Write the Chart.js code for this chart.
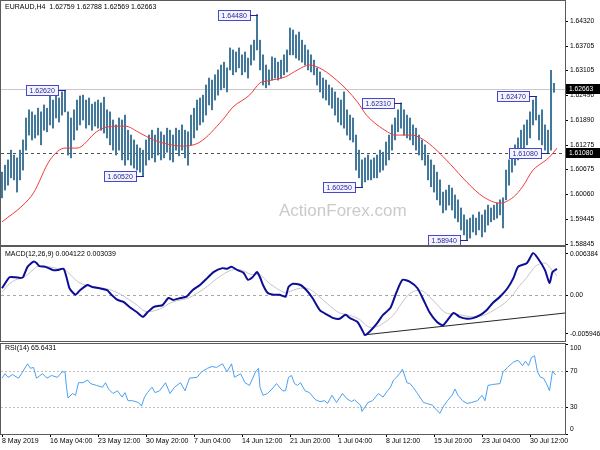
<!DOCTYPE html>
<html>
<head>
<meta charset="utf-8">
<script src="https://cdn.jsdelivr.net/npm/chart.js@4"></script>
<style>
    html, body { margin: 0; padding: 0; background: #fff; }
    #wrap { position: relative; width: 600px; height: 450px; overflow: hidden; background: #fff; }
    #wrap canvas { position: absolute; left: 0; top: 0; }
</style>
</head>
<body>
<div id="wrap">
    <canvas id="priceChart" width="600" height="450"></canvas>
    <canvas id="macdChart" width="600" height="450"></canvas>
    <canvas id="rsiChart" width="600" height="450"></canvas>
</div>
<script>
// ===== DATA =====
const dateLabels = ['8 May 2019', '16 May 04:00', '23 May 12:00', '30 May 20:00', '7 Jun 04:00', '14 Jun 12:00',
    '21 Jun 20:00', '1 Jul 04:00', '8 Jul 12:00', '15 Jul 20:00', '23 Jul 04:00', '30 Jul 12:00'];
const dateTicks = [0, 32, 64, 96, 128, 160, 192, 224, 256, 288, 320, 352]; // H4 bar number of each label

const priceTicks = [1.64320, 1.63705, 1.63105, 1.62490, 1.61890, 1.61275, 1.60675, 1.60060, 1.59445, 1.58845];
const macdTicks = [0.006384, 0, -0.005946];
const rsiTicks = [100, 70, 30, 0];

const ohlcLast = [1.62759, 1.62788, 1.62569, 1.62663];
const supportLevel = 1.61080;

// one sampled bar per two H4 bars
const barStep = 2;
const barHigh = [
    1.6061, 1.6078, 1.6091, 1.6115, 1.6103, 1.6096, 1.6115, 1.6140, 1.6194, 1.6214,
    1.6209, 1.6201, 1.6218, 1.6209, 1.6226, 1.6218, 1.6255, 1.6238, 1.6248, 1.6243,
    1.6258, 1.6262, 1.6209, 1.6194, 1.6214, 1.6238, 1.6248, 1.6250, 1.6238, 1.6243,
    1.6228, 1.6233, 1.6238, 1.6231, 1.6245, 1.6214, 1.6209, 1.6189, 1.6177, 1.6194,
    1.6189, 1.6201, 1.6164, 1.6152, 1.6140, 1.6128, 1.6120, 1.6115, 1.6140, 1.6152,
    1.6164, 1.6152, 1.6169, 1.6160, 1.6152, 1.6169, 1.6164, 1.6152, 1.6169, 1.6164,
    1.6177, 1.6164, 1.6160, 1.6201, 1.6218, 1.6238, 1.6243, 1.6250, 1.6275, 1.6292,
    1.6287, 1.6300, 1.6312, 1.6324, 1.6331, 1.6317, 1.6366, 1.6361, 1.6356, 1.6366,
    1.6349, 1.6356, 1.6341, 1.6373, 1.6385, 1.6448, 1.6385, 1.6349, 1.6324, 1.6312,
    1.6344, 1.6341, 1.6331, 1.6336, 1.6349, 1.6361, 1.6415, 1.6410, 1.6398, 1.6405,
    1.6385, 1.6373, 1.6361, 1.6349, 1.6336, 1.6317, 1.6307, 1.6292, 1.6287, 1.6275,
    1.6268, 1.6258, 1.6243, 1.6238, 1.6258, 1.6214, 1.6201, 1.6194, 1.6152, 1.6115,
    1.6091, 1.6096, 1.6103, 1.6091, 1.6096, 1.6103, 1.6115, 1.6110, 1.6135, 1.6152,
    1.6177, 1.6194, 1.6214, 1.6231, 1.6214, 1.6201, 1.6194, 1.6177, 1.6169, 1.6152,
    1.6140, 1.6128, 1.6103, 1.6091, 1.6078, 1.6061, 1.6042, 1.6012, 1.6017, 1.6029,
    1.6022, 1.6005, 1.5993, 1.5973, 1.5956, 1.5944, 1.5948, 1.5956, 1.5948, 1.5963,
    1.5956, 1.5968, 1.5980, 1.5973, 1.5980, 1.5985, 1.5993, 1.5998, 1.6066, 1.6091,
    1.6115, 1.6128, 1.6145, 1.6164, 1.6177, 1.6189, 1.6209, 1.6238, 1.6247, 1.6201,
    1.6214, 1.6177, 1.6164, 1.6311, 1.6279
];
const barLow = [
    1.5998, 1.6017, 1.6029, 1.6047, 1.6042, 1.6012, 1.6042, 1.6066, 1.6115, 1.6152,
    1.6140, 1.6145, 1.6152, 1.6128, 1.6164, 1.6160, 1.6177, 1.6169, 1.6194, 1.6184,
    1.6201, 1.6209, 1.6103, 1.6096, 1.6140, 1.6164, 1.6177, 1.6189, 1.6169, 1.6177,
    1.6164, 1.6174, 1.6169, 1.6164, 1.6157, 1.6145, 1.6128, 1.6115, 1.6103, 1.6115,
    1.6091, 1.6078, 1.6091, 1.6078, 1.6071, 1.6066, 1.6061, 1.6052, 1.6078, 1.6091,
    1.6096, 1.6086, 1.6103, 1.6091, 1.6096, 1.6110, 1.6091, 1.6086, 1.6115, 1.6101,
    1.6115, 1.6096, 1.6078, 1.6128, 1.6145, 1.6164, 1.6177, 1.6184, 1.6201, 1.6226,
    1.6214, 1.6238, 1.6250, 1.6263, 1.6268, 1.6258, 1.6312, 1.6300, 1.6307, 1.6317,
    1.6300, 1.6307, 1.6292, 1.6324, 1.6336, 1.6361, 1.6312, 1.6275, 1.6268, 1.6275,
    1.6287, 1.6292, 1.6287, 1.6292, 1.6300, 1.6307, 1.6349, 1.6349, 1.6341, 1.6336,
    1.6331, 1.6324, 1.6312, 1.6307, 1.6300, 1.6275, 1.6258, 1.6243, 1.6238, 1.6226,
    1.6218, 1.6201, 1.6184, 1.6177, 1.6169, 1.6152, 1.6140, 1.6135, 1.6066, 1.6047,
    1.6025, 1.6037, 1.6042, 1.6042, 1.6047, 1.6047, 1.6061, 1.6066, 1.6078, 1.6091,
    1.6115, 1.6140, 1.6160, 1.6169, 1.6152, 1.6145, 1.6140, 1.6128, 1.6115, 1.6103,
    1.6091, 1.6078, 1.6042, 1.6025, 1.6012, 1.5993, 1.5980, 1.5961, 1.5968, 1.5980,
    1.5968, 1.5948, 1.5939, 1.5919, 1.5907, 1.5894, 1.5899, 1.5914, 1.5907, 1.5919,
    1.5902, 1.5914, 1.5931, 1.5939, 1.5944, 1.5948, 1.5956, 1.5924, 1.5993, 1.6029,
    1.6061, 1.6078, 1.6091, 1.6110, 1.6120, 1.6128, 1.6145, 1.6177, 1.6189, 1.6140,
    1.6128, 1.6115, 1.6108, 1.6115, 1.6257
];

// swing high / low markers (H4 bar number, price)
const markIdx = [42, 94, 170, 240, 266, 310, 356, 364];
const markPrice = [1.62620, 1.60520, 1.64480, 1.60250, 1.62310, 1.58940, 1.62470, 1.61080];

// moving average
const maIdx = [0, 14, 21, 32, 42, 50, 63, 70, 82, 92, 101, 110, 121, 132, 147, 154, 165, 172, 177, 189,
    197, 205, 214, 223, 230, 237, 243, 257, 262, 265, 273, 279, 287, 299, 310, 321, 332, 341, 347, 354,
    361, 365, 370];
const maVal = [1.5939, 1.5980, 1.6010, 1.6091, 1.6120, 1.6120, 1.6160, 1.6172, 1.6174, 1.6157,
    1.6140, 1.6130, 1.6125, 1.6135, 1.6189, 1.6221, 1.6250, 1.6280, 1.6285, 1.6295,
    1.6312, 1.6324, 1.6312, 1.6287, 1.6263, 1.6233, 1.6201, 1.6160, 1.6152, 1.6152,
    1.6152, 1.6145, 1.6124, 1.6080, 1.6036, 1.6000, 1.5985, 1.6000, 1.6025, 1.6066,
    1.6086, 1.6098, 1.6120];

// MACD(12,26,9)
const macdIdx = [0, 5, 9, 12, 14, 17, 21, 23, 25, 29,
    34, 37, 41, 43, 45, 49, 52, 57, 60, 65,
    70, 73, 77, 81, 85, 90, 94, 97, 101, 105,
    107, 111, 114, 119, 123, 127, 132, 137, 141, 147,
    150, 153, 157, 161, 164, 167, 170, 172, 174, 177,
    181, 185, 189, 191, 194, 199, 203, 207, 212, 217,
    221, 225, 229, 232, 237, 240, 242, 245, 250, 254,
    259, 263, 267, 272, 277, 281, 285, 290, 294, 297,
    301, 305, 310, 314, 319, 323, 327, 332, 337, 341,
    344, 350, 354, 357, 362, 365, 367, 370];
const macdVal = [0.0011, 0.0028, 0.0028, 0.0027, 0.0028, 0.0044, 0.0052, 0.0050, 0.0045, 0.0044,
    0.0039, 0.0039, 0.0041, 0.0028, 0.0011, 0.0001, 0.0008, 0.0016, 0.0013, 0.0011,
    0.0008, 0.0001, -0.0007, -0.0010, -0.0018, -0.0026, -0.0033, -0.0026, -0.0018, -0.0016,
    -0.0015, -0.0004, -0.0007, -0.0004, -0.0002, 0.0008, 0.0016, 0.0027, 0.0036, 0.0042,
    0.0041, 0.0044, 0.0039, 0.0035, 0.0024, 0.0028, 0.0036, 0.0028, 0.0016, 0.0004,
    0.0001, 0.0001, -0.0002, 0.0013, 0.0018, 0.0016, 0.0008, -0.0004, -0.0023, -0.0030,
    -0.0035, -0.0036, -0.0030, -0.0035, -0.0041, -0.0053, -0.0061, -0.0056, -0.0043, -0.0030,
    -0.0019, 0.0005, 0.0024, 0.0021, 0.0011, -0.0007, -0.0026, -0.0041, -0.0046, -0.0038,
    -0.0027, -0.0033, -0.0036, -0.0035, -0.0030, -0.0023, -0.0012, -0.0002, 0.0011, 0.0027,
    0.0044, 0.0050, 0.0065, 0.0058, 0.0039, 0.0019, 0.0036, 0.0041];
const signalVal = [0.0005, 0.0018, 0.0024, 0.0026, 0.0027, 0.0032, 0.0040, 0.0044, 0.0045, 0.0045,
    0.0043, 0.0041, 0.0040, 0.0038, 0.0033, 0.0024, 0.0019, 0.0015, 0.0014, 0.0012,
    0.0010, 0.0008, 0.0004, -0.0001, -0.0007, -0.0015, -0.0023, -0.0025, -0.0024, -0.0021,
    -0.0019, -0.0013, -0.0010, -0.0007, -0.0005, -0.0001, 0.0006, 0.0014, 0.0022, 0.0032,
    0.0036, 0.0039, 0.0040, 0.0038, 0.0034, 0.0032, 0.0033, 0.0032, 0.0028, 0.0021,
    0.0014, 0.0008, 0.0004, 0.0005, 0.0008, 0.0011, 0.0011, 0.0007, -0.0003, -0.0013,
    -0.0021, -0.0027, -0.0029, -0.0031, -0.0035, -0.0040, -0.0045, -0.0049, -0.0048, -0.0043,
    -0.0035, -0.0024, -0.0010, 0.0003, 0.0008, 0.0006, -0.0002, -0.0014, -0.0024, -0.0028,
    -0.0029, -0.0030, -0.0032, -0.0033, -0.0032, -0.0029, -0.0024, -0.0017, -0.0008, 0.0002,
    0.0012, 0.0028, 0.0041, 0.0047, 0.0050, 0.0044, 0.0038, 0.0030];
const macdInfo = [0.004122, 0.003039];
const trendIdx = [241, 376];
const trendVal = [-0.0061, -0.0027];

// RSI(14)
const rsiIdx = [0, 2, 4, 7, 11, 13, 17, 19, 21, 23,
    27, 30, 33, 37, 40, 42, 43, 44, 47, 49,
    51, 54, 57, 59, 63, 67, 69, 71, 74, 77,
    80, 82, 84, 87, 91, 93, 95, 97, 100, 102,
    105, 109, 112, 115, 119, 122, 125, 130, 133, 137,
    140, 143, 147, 150, 153, 155, 159, 162, 165, 169,
    171, 172, 174, 177, 180, 183, 187, 189, 191, 193,
    195, 197, 199, 202, 205, 209, 212, 215, 217, 220,
    223, 227, 230, 233, 235, 239, 240, 242, 244, 247,
    251, 254, 257, 259, 261, 263, 265, 267, 270, 272,
    274, 277, 281, 283, 287, 290, 292, 294, 297, 300,
    302, 304, 307, 310, 313, 317, 320, 322, 324, 327,
    332, 334, 337, 341, 344, 347, 349, 351, 353, 355,
    357, 359, 361, 363, 365, 367, 369];
const rsiVal = [62, 67, 63, 66, 62, 67, 78, 73, 74, 62,
    67, 62, 65, 63, 69, 69, 52, 40, 45, 43,
    57, 57, 60, 56, 54, 52, 57, 50, 45, 48,
    41, 46, 37, 37, 35, 31, 41, 46, 52, 46,
    48, 57, 45, 52, 57, 48, 62, 63, 69, 73,
    75, 74, 78, 69, 78, 63, 67, 57, 54, 69,
    73, 52, 43, 45, 50, 56, 48, 48, 63, 65,
    56, 54, 57, 48, 46, 38, 36, 37, 34, 43,
    35, 45, 39, 36, 38, 32, 25, 30, 35, 37,
    45, 41, 48, 52, 60, 63, 67, 72, 57, 56,
    52, 45, 35, 34, 32, 26, 23, 30, 37, 43,
    50, 43, 37, 34, 35, 37, 43, 37, 54, 55,
    56, 69, 74, 80, 82, 76, 81, 76, 85, 87,
    69, 63, 62, 56, 48, 70, 65.6431];
const rsiLevels = [70, 30];

// ===== SHARED SETTINGS =====
const FONT = '"Liberation Sans", Arial, sans-serif';
const X_MIN = -0.67;
const X_MAX = 375.33;

function putText(ctx, str, x, y, color, size, align) {
    ctx.font = size + 'px ' + FONT;
    ctx.fillStyle = color;
    ctx.textAlign = align || 'left';
    ctx.textBaseline = 'middle';
    ctx.fillText(str, x, y);
}

function drawFrame(chart) {
    const { ctx, chartArea: a } = chart;
    ctx.save();
    ctx.strokeStyle = '#5a5a5a';
    ctx.lineWidth = 1;
    ctx.strokeRect(a.left - 0.5, a.top - 0.5, a.right - a.left + 1, a.bottom - a.top + 1);
    ctx.restore();
}

function hLine(chart, value, color, dash) {
    const { ctx, chartArea: a, scales: { y } } = chart;
    const py = Math.round(y.getPixelForValue(value)) + 0.5;
    ctx.save();
    ctx.strokeStyle = color;
    ctx.lineWidth = 1;
    ctx.setLineDash(dash || []);
    ctx.beginPath();
    ctx.moveTo(a.left, py);
    ctx.lineTo(a.right, py);
    ctx.stroke();
    ctx.restore();
}

function sideLabel(chart, value) {
    const { ctx, chartArea: a, scales: { y } } = chart;
    const py = Math.round(y.getPixelForValue(value));
    ctx.save();
    ctx.fillStyle = '#000';
    ctx.fillRect(a.right + 1, py - 5, 35, 10);
    putText(ctx, value.toFixed(5), a.right + 4, py, '#fff', 6.7);
    ctx.restore();
}

function xAxis(show) {
    return {
        type: 'linear',
        min: X_MIN,
        max: X_MAX,
        offset: false,
        display: show,
        afterBuildTicks: axis => { axis.ticks = dateTicks.map(v => ({ value: v })); },
        afterFit: axis => {
            axis.height = show ? 16 : 0;
            axis.paddingLeft = 0;
            axis.paddingRight = 0;
        },
        ticks: {
            callback: (v, i) => dateLabels[i],
            autoSkip: false,
            maxRotation: 0,
            align: 'start',
            padding: 0,
            color: '#000',
            font: { family: FONT, size: 7 }
        },
        grid: { drawOnChartArea: false, drawTicks: true, tickLength: 3, color: '#000' },
        border: { display: false }
    };
}

function yAxis(min, max, tickValues, fmt, showLabels) {
    return {
        position: 'right',
        min: min,
        max: max,
        beginAtZero: false,
        afterBuildTicks: axis => { axis.ticks = tickValues.map(v => ({ value: v })); },
        afterFit: axis => { axis.width = 35; axis.paddingTop = 0; axis.paddingBottom = 0; },
        ticks: {
            display: showLabels,
            callback: fmt,
            padding: 2,
            color: '#000',
            font: { family: FONT, size: 6.7 }
        },
        grid: { drawOnChartArea: false, drawTicks: true, tickLength: 3, color: '#000' },
        border: { display: false }
    };
}

const baseOptions = {
    responsive: false,
    animation: false,
    devicePixelRatio: 1,
    plugins: { legend: { display: false }, tooltip: { enabled: false } }
};

// ===== PRICE PANEL =====
const pricePanel = {
    id: 'pricePanel',
    beforeDatasetsDraw(chart) {
        const ctx = chart.ctx;
        ctx.save();
        putText(ctx, 'ActionForex.com', 279, 211, '#cacaca', 17);
        ctx.restore();
        hLine(chart, ohlcLast[3], '#c8c8c8');
        hLine(chart, supportLevel, '#505050', [3, 3]);
    },
    afterDatasetsDraw(chart) {
        const { ctx, scales: { x, y } } = chart;
        ctx.save();
        ctx.font = '7px ' + FONT;
        markIdx.forEach((idx, i) => {
            const label = markPrice[i].toFixed(5);
            const bx = Math.round(x.getPixelForValue(idx));
            const by = Math.round(y.getPixelForValue(markPrice[i])) + 0.5;
            const w = Math.ceil(ctx.measureText(label).width) + 6;
            const right = bx - 7;
            ctx.fillStyle = '#f4f4ff';
            ctx.fillRect(right - w, by - 5, w, 10);
            ctx.strokeStyle = '#4848c8';
            ctx.lineWidth = 1;
            ctx.strokeRect(right - w + 0.5, by - 5, w, 10);
            ctx.strokeStyle = '#22229a';
            ctx.beginPath();
            ctx.moveTo(right, by);
            ctx.lineTo(bx + 1, by);
            ctx.stroke();
            putText(ctx, label, right - w + 3.5, by + 0.5, '#26269a', 7);
        });
        ctx.restore();
    },
    afterDraw(chart) {
        drawFrame(chart);
        const ctx = chart.ctx;
        ctx.save();
        putText(ctx, 'EURAUD,H4  ' + ohlcLast.map(v => v.toFixed(5)).join(' '), 5, 7, '#000', 7);
        ctx.restore();
        sideLabel(chart, ohlcLast[3]);
        sideLabel(chart, supportLevel);
    }
};

new Chart(document.getElementById('priceChart'), {
    type: 'bar',
    data: {
        datasets: [{
            type: 'line',
            label: 'MA',
            data: maIdx.map((x, i) => ({ x: x, y: maVal[i] })),
            borderColor: '#f03a3a',
            borderWidth: 1,
            pointRadius: 0,
            cubicInterpolationMode: 'monotone',
            order: 0
        }, {
            type: 'bar',
            label: 'EURAUD',
            data: barHigh.map((h, k) => ({ x: k * barStep, y: [barLow[k], h] })),
            backgroundColor: '#44789a',
            barThickness: 1.4,
            order: 1
        }]
    },
    options: Object.assign({}, baseOptions, {
        layout: { padding: { left: 1, top: 1, right: 0, bottom: 205 } },
        scales: {
            x: xAxis(false),
            y: yAxis(1.58821, 1.64812, priceTicks, v => v.toFixed(5), true)
        }
    }),
    plugins: [pricePanel]
});

// ===== MACD PANEL =====
const macdPanel = {
    id: 'macdPanel',
    beforeDatasetsDraw(chart) {
        hLine(chart, 0, '#a8a8a8', [3, 3]);
    },
    afterDraw(chart) {
        drawFrame(chart);
        const ctx = chart.ctx;
        ctx.save();
        putText(ctx, 'MACD(12,26,9) ' + macdInfo.map(v => v.toFixed(6)).join(' '), 5, chart.chartArea.top + 7, '#000', 7);
        ctx.restore();
    }
};

new Chart(document.getElementById('macdChart'), {
    type: 'line',
    data: {
        datasets: [{
            label: 'MACD',
            data: macdIdx.map((x, i) => ({ x: x, y: macdVal[i] })),
            borderColor: '#0d0d96',
            borderWidth: 2,
            pointRadius: 0,
            tension: 0.2,
            order: 0
        }, {
            label: 'Signal',
            data: macdIdx.map((x, i) => ({ x: x, y: signalVal[i] })),
            borderColor: '#c4c4c4',
            borderWidth: 1,
            pointRadius: 0,
            tension: 0.3,
            order: 1
        }, {
            label: 'Trend',
            data: trendIdx.map((x, i) => ({ x: x, y: trendVal[i] })),
            borderColor: '#262626',
            borderWidth: 1,
            pointRadius: 0,
            order: 2
        }]
    },
    options: Object.assign({}, baseOptions, {
        layout: { padding: { left: 1, top: 247, right: 0, bottom: 109 } },
        scales: {
            x: xAxis(false),
            y: yAxis(-0.00703, 0.00746, macdTicks, v => (v === 0 ? '0.00' : v.toFixed(6)), true)
        }
    }),
    plugins: [macdPanel]
});

// ===== RSI PANEL =====
const rsiPanel = {
    id: 'rsiPanel',
    beforeDatasetsDraw(chart) {
        rsiLevels.forEach(v => hLine(chart, v, '#bdbdbd', [2, 2]));
    },
    afterDraw(chart) {
        drawFrame(chart);
        const { ctx, chartArea: a, scales: { y } } = chart;
        ctx.save();
        putText(ctx, 'RSI(14) ' + rsiVal[rsiVal.length - 1].toFixed(4), 5, a.top + 4, '#000', 7);
        // MT4 keeps the outer scale labels inside the panel
        rsiTicks.forEach(v => {
            const py = Math.min(Math.max(y.getPixelForValue(v), a.top + 4), a.bottom - 5);
            putText(ctx, String(v), a.right + 5, py, '#000', 6.7);
        });
        ctx.restore();
    }
};

new Chart(document.getElementById('rsiChart'), {
    type: 'line',
    data: {
        datasets: [{
            label: 'RSI',
            data: rsiIdx.map((x, i) => ({ x: x, y: rsiVal[i] })),
            borderColor: '#4aa0f2',
            borderWidth: 1,
            pointRadius: 0,
            order: 0
        }]
    },
    options: Object.assign({}, baseOptions, {
        layout: { padding: { left: 1, top: 344, right: 0, bottom: 0 } },
        scales: {
            x: xAxis(true),
            y: yAxis(0, 100, rsiTicks, v => String(v), false)
        }
    }),
    plugins: [rsiPanel]
});
</script>
</body>
</html>
